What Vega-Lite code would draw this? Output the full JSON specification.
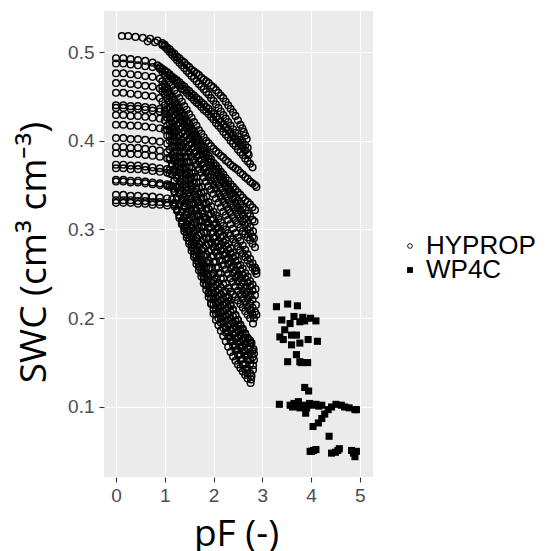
{
"$schema":"https://vega.github.io/schema/vega-lite/v6.json",
"width":269,"height":466,
"autosize":{"type":"none"},
"padding":{"left":104,"top":11,"right":177,"bottom":74},
"background":"white",
"config":{
"view":{"fill":"#EBEBEB","stroke":null},
"axis":{"domain":false,"grid":true,"gridColor":"white","gridWidth":1.1,"tickColor":"#333333","tickSize":5,"tickWidth":1.1,"labelColor":"#4D4D4D","labelFont":"Liberation Sans","labelFontSize":19,"titleFont":"Open Sans","titleFontSize":37,"titleFontWeight":"normal","titleColor":"black"},
"legend":{"labelFont":"Liberation Sans","labelFontSize":26,"labelColor":"black","symbolOpacity":1,"padding":0,"title":null}
},
"datasets":{
"hyprop":[
{"pF":0.12,"SWC":0.518},{"pF":0.25,"SWC":0.518},{"pF":0.4,"SWC":0.517},{"pF":0.55,"SWC":0.516},{"pF":0.7,"SWC":0.515},{"pF":0.85,"SWC":0.513},{"pF":0.95,"SWC":0.51},{"pF":1.0,"SWC":0.508},{"pF":1.05,"SWC":0.505},{"pF":1.1,"SWC":0.503},{"pF":1.15,"SWC":0.5},{"pF":1.2,"SWC":0.498},{"pF":1.25,"SWC":0.495},{"pF":1.3,"SWC":0.493},{"pF":1.35,"SWC":0.49},{"pF":1.4,"SWC":0.488},{"pF":1.45,"SWC":0.485},{"pF":1.5,"SWC":0.483},{"pF":1.55,"SWC":0.48},{"pF":1.6,"SWC":0.478},{"pF":1.65,"SWC":0.476},{"pF":1.7,"SWC":0.474},{"pF":1.75,"SWC":0.471},{"pF":1.8,"SWC":0.469},{"pF":1.85,"SWC":0.467},{"pF":1.9,"SWC":0.465},{"pF":1.95,"SWC":0.462},{"pF":2.0,"SWC":0.46},{"pF":2.05,"SWC":0.457},{"pF":2.1,"SWC":0.454},{"pF":2.15,"SWC":0.451},{"pF":2.2,"SWC":0.448},{"pF":2.25,"SWC":0.444},{"pF":2.3,"SWC":0.44},{"pF":2.35,"SWC":0.436},{"pF":2.4,"SWC":0.432},{"pF":2.45,"SWC":0.428},{"pF":2.5,"SWC":0.423},{"pF":2.55,"SWC":0.418},{"pF":2.59,"SWC":0.414},{"pF":2.62,"SWC":0.41},{"pF":2.65,"SWC":0.406},{"pF":2.68,"SWC":0.402},
{"pF":0.65,"SWC":0.512},{"pF":0.8,"SWC":0.511},{"pF":0.95,"SWC":0.508},{"pF":1.0,"SWC":0.506},{"pF":1.05,"SWC":0.503},{"pF":1.1,"SWC":0.5},{"pF":1.15,"SWC":0.497},{"pF":1.2,"SWC":0.494},{"pF":1.25,"SWC":0.491},{"pF":1.3,"SWC":0.488},{"pF":1.35,"SWC":0.485},{"pF":1.4,"SWC":0.482},{"pF":1.45,"SWC":0.479},{"pF":1.5,"SWC":0.476},{"pF":1.55,"SWC":0.473},{"pF":1.6,"SWC":0.47},{"pF":1.65,"SWC":0.467},{"pF":1.7,"SWC":0.464},{"pF":1.75,"SWC":0.461},{"pF":1.8,"SWC":0.458},{"pF":1.85,"SWC":0.455},{"pF":1.9,"SWC":0.452},{"pF":1.95,"SWC":0.448},{"pF":2.0,"SWC":0.445},{"pF":2.05,"SWC":0.441},{"pF":2.1,"SWC":0.437},{"pF":2.15,"SWC":0.433},{"pF":2.2,"SWC":0.429},{"pF":2.25,"SWC":0.425},{"pF":2.3,"SWC":0.421},{"pF":2.35,"SWC":0.417},{"pF":2.4,"SWC":0.413},{"pF":2.45,"SWC":0.409},{"pF":2.5,"SWC":0.405},{"pF":2.55,"SWC":0.401},{"pF":2.6,"SWC":0.398},{"pF":2.65,"SWC":0.395},{"pF":2.7,"SWC":0.392},
{"pF":0,"SWC":0.493},{"pF":0.15,"SWC":0.493},{"pF":0.3,"SWC":0.492},{"pF":0.45,"SWC":0.491},{"pF":0.6,"SWC":0.49},{"pF":0.75,"SWC":0.488},{"pF":0.85,"SWC":0.485},{"pF":0.9,"SWC":0.483},{"pF":0.95,"SWC":0.481},{"pF":1.0,"SWC":0.479},{"pF":1.05,"SWC":0.477},{"pF":1.1,"SWC":0.475},{"pF":1.15,"SWC":0.472},{"pF":1.2,"SWC":0.47},{"pF":1.25,"SWC":0.468},{"pF":1.3,"SWC":0.466},{"pF":1.35,"SWC":0.463},{"pF":1.4,"SWC":0.461},{"pF":1.45,"SWC":0.458},{"pF":1.5,"SWC":0.456},{"pF":1.55,"SWC":0.453},{"pF":1.6,"SWC":0.451},{"pF":1.65,"SWC":0.448},{"pF":1.7,"SWC":0.446},{"pF":1.75,"SWC":0.443},{"pF":1.8,"SWC":0.441},{"pF":1.85,"SWC":0.438},{"pF":1.9,"SWC":0.436},{"pF":1.95,"SWC":0.433},{"pF":2.0,"SWC":0.43},{"pF":2.05,"SWC":0.427},{"pF":2.1,"SWC":0.424},{"pF":2.15,"SWC":0.421},{"pF":2.2,"SWC":0.418},{"pF":2.25,"SWC":0.415},{"pF":2.3,"SWC":0.412},{"pF":2.35,"SWC":0.409},{"pF":2.4,"SWC":0.406},{"pF":2.45,"SWC":0.402},{"pF":2.5,"SWC":0.399},{"pF":2.55,"SWC":0.396},{"pF":2.6,"SWC":0.393},{"pF":2.65,"SWC":0.389},{"pF":2.7,"SWC":0.386},{"pF":2.72,"SWC":0.384},
{"pF":1.1,"SWC":0.473},{"pF":1.15,"SWC":0.47},{"pF":1.2,"SWC":0.468},{"pF":1.25,"SWC":0.465},{"pF":1.3,"SWC":0.462},{"pF":1.35,"SWC":0.459},{"pF":1.4,"SWC":0.457},{"pF":1.45,"SWC":0.454},{"pF":1.5,"SWC":0.451},{"pF":1.55,"SWC":0.449},{"pF":1.6,"SWC":0.446},{"pF":1.65,"SWC":0.443},{"pF":1.7,"SWC":0.441},{"pF":1.75,"SWC":0.438},{"pF":1.8,"SWC":0.435},{"pF":1.85,"SWC":0.433},{"pF":1.9,"SWC":0.43},{"pF":1.95,"SWC":0.427},{"pF":2.0,"SWC":0.424},{"pF":2.05,"SWC":0.42},{"pF":2.1,"SWC":0.417},{"pF":2.15,"SWC":0.414},{"pF":2.2,"SWC":0.41},{"pF":2.25,"SWC":0.407},{"pF":2.3,"SWC":0.404},{"pF":2.35,"SWC":0.4},{"pF":2.4,"SWC":0.397},{"pF":2.45,"SWC":0.394},{"pF":2.5,"SWC":0.39},{"pF":2.55,"SWC":0.387},{"pF":2.6,"SWC":0.384},{"pF":2.65,"SWC":0.38},{"pF":2.7,"SWC":0.377},{"pF":2.75,"SWC":0.374},{"pF":2.8,"SWC":0.37},
{"pF":0,"SWC":0.487},{"pF":0.15,"SWC":0.487},{"pF":0.3,"SWC":0.486},{"pF":0.45,"SWC":0.485},{"pF":0.6,"SWC":0.484},{"pF":0.75,"SWC":0.483},{"pF":0.9,"SWC":0.481},{"pF":0.95,"SWC":0.478},{"pF":1.0,"SWC":0.474},{"pF":1.05,"SWC":0.47},{"pF":1.1,"SWC":0.466},{"pF":1.15,"SWC":0.462},{"pF":1.2,"SWC":0.457},{"pF":1.25,"SWC":0.453},{"pF":1.3,"SWC":0.448},{"pF":1.35,"SWC":0.444},{"pF":1.4,"SWC":0.439},{"pF":1.45,"SWC":0.435},{"pF":1.5,"SWC":0.43},{"pF":1.55,"SWC":0.426},{"pF":1.6,"SWC":0.421},{"pF":1.65,"SWC":0.417},{"pF":1.7,"SWC":0.412},{"pF":1.75,"SWC":0.408},{"pF":1.8,"SWC":0.404},{"pF":1.85,"SWC":0.4},{"pF":1.9,"SWC":0.397},{"pF":1.95,"SWC":0.394},{"pF":2.0,"SWC":0.391},{"pF":2.05,"SWC":0.388},{"pF":2.1,"SWC":0.386},{"pF":2.15,"SWC":0.383},{"pF":2.2,"SWC":0.381},{"pF":2.25,"SWC":0.378},{"pF":2.3,"SWC":0.376},{"pF":2.35,"SWC":0.373},{"pF":2.4,"SWC":0.371},{"pF":2.45,"SWC":0.369},{"pF":2.5,"SWC":0.367},{"pF":2.55,"SWC":0.364},{"pF":2.6,"SWC":0.362},{"pF":2.65,"SWC":0.359},{"pF":2.7,"SWC":0.357},{"pF":2.75,"SWC":0.354},{"pF":2.8,"SWC":0.352},{"pF":2.85,"SWC":0.35},{"pF":2.88,"SWC":0.348},
{"pF":0,"SWC":0.476},{"pF":0.15,"SWC":0.476},{"pF":0.3,"SWC":0.475},{"pF":0.45,"SWC":0.474},{"pF":0.6,"SWC":0.473},{"pF":0.75,"SWC":0.472},{"pF":0.9,"SWC":0.47},{"pF":0.95,"SWC":0.467},{"pF":1.0,"SWC":0.463},{"pF":1.05,"SWC":0.459},{"pF":1.1,"SWC":0.455},{"pF":1.15,"SWC":0.45},{"pF":1.2,"SWC":0.446},{"pF":1.25,"SWC":0.441},{"pF":1.3,"SWC":0.437},{"pF":1.35,"SWC":0.432},{"pF":1.4,"SWC":0.428},{"pF":1.45,"SWC":0.423},{"pF":1.5,"SWC":0.419},{"pF":1.55,"SWC":0.414},{"pF":1.6,"SWC":0.41},{"pF":1.65,"SWC":0.405},{"pF":1.7,"SWC":0.401},{"pF":1.75,"SWC":0.396},{"pF":1.8,"SWC":0.392},{"pF":1.85,"SWC":0.387},{"pF":1.9,"SWC":0.383},{"pF":1.95,"SWC":0.379},{"pF":2.0,"SWC":0.375},{"pF":2.05,"SWC":0.372},{"pF":2.1,"SWC":0.369},{"pF":2.15,"SWC":0.365},{"pF":2.2,"SWC":0.362},{"pF":2.25,"SWC":0.358},{"pF":2.3,"SWC":0.355},{"pF":2.35,"SWC":0.351},{"pF":2.4,"SWC":0.348},{"pF":2.45,"SWC":0.345},{"pF":2.5,"SWC":0.342},{"pF":2.55,"SWC":0.339},{"pF":2.6,"SWC":0.336},{"pF":2.65,"SWC":0.333},{"pF":2.7,"SWC":0.331},{"pF":2.75,"SWC":0.328},{"pF":2.8,"SWC":0.325},{"pF":2.85,"SWC":0.322},
{"pF":0.95,"SWC":0.461},{"pF":1.0,"SWC":0.458},{"pF":1.05,"SWC":0.454},{"pF":1.1,"SWC":0.45},{"pF":1.15,"SWC":0.446},{"pF":1.2,"SWC":0.441},{"pF":1.25,"SWC":0.437},{"pF":1.3,"SWC":0.433},{"pF":1.35,"SWC":0.428},{"pF":1.4,"SWC":0.424},{"pF":1.45,"SWC":0.42},{"pF":1.5,"SWC":0.415},{"pF":1.55,"SWC":0.411},{"pF":1.6,"SWC":0.407},{"pF":1.65,"SWC":0.402},{"pF":1.7,"SWC":0.398},{"pF":1.75,"SWC":0.393},{"pF":1.8,"SWC":0.389},{"pF":1.85,"SWC":0.385},{"pF":1.9,"SWC":0.38},{"pF":1.95,"SWC":0.376},{"pF":2.0,"SWC":0.372},{"pF":2.05,"SWC":0.368},{"pF":2.1,"SWC":0.364},{"pF":2.15,"SWC":0.36},{"pF":2.2,"SWC":0.356},{"pF":2.25,"SWC":0.352},{"pF":2.3,"SWC":0.348},{"pF":2.35,"SWC":0.344},{"pF":2.4,"SWC":0.341},{"pF":2.45,"SWC":0.337},{"pF":2.5,"SWC":0.333},{"pF":2.55,"SWC":0.329},{"pF":2.6,"SWC":0.325},{"pF":2.65,"SWC":0.322},{"pF":2.7,"SWC":0.318},{"pF":2.75,"SWC":0.315},{"pF":2.8,"SWC":0.311},{"pF":2.84,"SWC":0.309},
{"pF":0,"SWC":0.465},{"pF":0.15,"SWC":0.465},{"pF":0.3,"SWC":0.464},{"pF":0.45,"SWC":0.463},{"pF":0.6,"SWC":0.462},{"pF":0.75,"SWC":0.461},{"pF":0.9,"SWC":0.459},{"pF":0.95,"SWC":0.456},{"pF":1.0,"SWC":0.452},{"pF":1.05,"SWC":0.448},{"pF":1.1,"SWC":0.444},{"pF":1.15,"SWC":0.44},{"pF":1.2,"SWC":0.436},{"pF":1.25,"SWC":0.432},{"pF":1.3,"SWC":0.427},{"pF":1.35,"SWC":0.423},{"pF":1.4,"SWC":0.419},{"pF":1.45,"SWC":0.415},{"pF":1.5,"SWC":0.41},{"pF":1.55,"SWC":0.406},{"pF":1.6,"SWC":0.402},{"pF":1.65,"SWC":0.398},{"pF":1.7,"SWC":0.393},{"pF":1.75,"SWC":0.389},{"pF":1.8,"SWC":0.385},{"pF":1.85,"SWC":0.381},{"pF":1.9,"SWC":0.376},{"pF":1.95,"SWC":0.372},{"pF":2.0,"SWC":0.368},{"pF":2.05,"SWC":0.364},{"pF":2.1,"SWC":0.36},{"pF":2.15,"SWC":0.356},{"pF":2.2,"SWC":0.352},{"pF":2.25,"SWC":0.348},{"pF":2.3,"SWC":0.343},{"pF":2.35,"SWC":0.339},{"pF":2.4,"SWC":0.334},{"pF":2.45,"SWC":0.33},{"pF":2.5,"SWC":0.325},{"pF":2.55,"SWC":0.321},{"pF":2.6,"SWC":0.316},{"pF":2.65,"SWC":0.312},{"pF":2.7,"SWC":0.307},{"pF":2.75,"SWC":0.303},{"pF":2.81,"SWC":0.298},
{"pF":1.1,"SWC":0.438},{"pF":1.15,"SWC":0.433},{"pF":1.2,"SWC":0.429},{"pF":1.25,"SWC":0.424},{"pF":1.3,"SWC":0.42},{"pF":1.35,"SWC":0.415},{"pF":1.4,"SWC":0.411},{"pF":1.45,"SWC":0.406},{"pF":1.5,"SWC":0.402},{"pF":1.55,"SWC":0.397},{"pF":1.6,"SWC":0.393},{"pF":1.65,"SWC":0.388},{"pF":1.7,"SWC":0.384},{"pF":1.75,"SWC":0.379},{"pF":1.8,"SWC":0.375},{"pF":1.85,"SWC":0.37},{"pF":1.9,"SWC":0.366},{"pF":1.95,"SWC":0.362},{"pF":2.0,"SWC":0.358},{"pF":2.05,"SWC":0.354},{"pF":2.1,"SWC":0.35},{"pF":2.15,"SWC":0.346},{"pF":2.2,"SWC":0.341},{"pF":2.25,"SWC":0.337},{"pF":2.3,"SWC":0.333},{"pF":2.35,"SWC":0.329},{"pF":2.4,"SWC":0.325},{"pF":2.45,"SWC":0.321},{"pF":2.5,"SWC":0.317},{"pF":2.55,"SWC":0.313},{"pF":2.6,"SWC":0.309},{"pF":2.65,"SWC":0.305},{"pF":2.7,"SWC":0.3},{"pF":2.75,"SWC":0.296},{"pF":2.8,"SWC":0.292},{"pF":2.83,"SWC":0.29},
{"pF":0,"SWC":0.454},{"pF":0.15,"SWC":0.454},{"pF":0.3,"SWC":0.453},{"pF":0.45,"SWC":0.452},{"pF":0.6,"SWC":0.451},{"pF":0.75,"SWC":0.45},{"pF":0.9,"SWC":0.448},{"pF":0.95,"SWC":0.444},{"pF":1.0,"SWC":0.44},{"pF":1.05,"SWC":0.436},{"pF":1.1,"SWC":0.431},{"pF":1.15,"SWC":0.427},{"pF":1.2,"SWC":0.422},{"pF":1.25,"SWC":0.418},{"pF":1.3,"SWC":0.413},{"pF":1.35,"SWC":0.409},{"pF":1.4,"SWC":0.404},{"pF":1.45,"SWC":0.4},{"pF":1.5,"SWC":0.395},{"pF":1.55,"SWC":0.391},{"pF":1.6,"SWC":0.386},{"pF":1.65,"SWC":0.382},{"pF":1.7,"SWC":0.377},{"pF":1.75,"SWC":0.373},{"pF":1.8,"SWC":0.368},{"pF":1.85,"SWC":0.364},{"pF":1.9,"SWC":0.359},{"pF":1.95,"SWC":0.355},{"pF":2.0,"SWC":0.35},{"pF":2.05,"SWC":0.346},{"pF":2.1,"SWC":0.341},{"pF":2.15,"SWC":0.337},{"pF":2.2,"SWC":0.332},{"pF":2.25,"SWC":0.328},{"pF":2.3,"SWC":0.323},{"pF":2.35,"SWC":0.319},{"pF":2.4,"SWC":0.314},{"pF":2.45,"SWC":0.31},{"pF":2.5,"SWC":0.306},{"pF":2.55,"SWC":0.302},{"pF":2.6,"SWC":0.298},{"pF":2.65,"SWC":0.295},{"pF":2.7,"SWC":0.291},{"pF":2.75,"SWC":0.288},{"pF":2.8,"SWC":0.284},{"pF":2.85,"SWC":0.28},
{"pF":0,"SWC":0.44},{"pF":0.15,"SWC":0.44},{"pF":0.3,"SWC":0.439},{"pF":0.45,"SWC":0.439},{"pF":0.6,"SWC":0.438},{"pF":0.75,"SWC":0.437},{"pF":0.9,"SWC":0.436},{"pF":1.0,"SWC":0.434},{"pF":1.05,"SWC":0.43},{"pF":1.1,"SWC":0.425},{"pF":1.15,"SWC":0.42},{"pF":1.2,"SWC":0.415},{"pF":1.25,"SWC":0.411},{"pF":1.3,"SWC":0.406},{"pF":1.35,"SWC":0.401},{"pF":1.4,"SWC":0.397},{"pF":1.45,"SWC":0.392},{"pF":1.5,"SWC":0.387},{"pF":1.55,"SWC":0.382},{"pF":1.6,"SWC":0.378},{"pF":1.65,"SWC":0.373},{"pF":1.7,"SWC":0.368},{"pF":1.75,"SWC":0.364},{"pF":1.8,"SWC":0.359},{"pF":1.85,"SWC":0.354},{"pF":1.9,"SWC":0.349},{"pF":1.95,"SWC":0.345},{"pF":2.0,"SWC":0.34},{"pF":2.05,"SWC":0.335},{"pF":2.1,"SWC":0.33},{"pF":2.15,"SWC":0.325},{"pF":2.2,"SWC":0.32},{"pF":2.25,"SWC":0.316},{"pF":2.3,"SWC":0.311},{"pF":2.35,"SWC":0.306},{"pF":2.4,"SWC":0.301},{"pF":2.45,"SWC":0.296},{"pF":2.5,"SWC":0.291},{"pF":2.55,"SWC":0.287},{"pF":2.6,"SWC":0.282},{"pF":2.65,"SWC":0.277},{"pF":2.7,"SWC":0.272},{"pF":2.75,"SWC":0.267},{"pF":2.8,"SWC":0.262},{"pF":2.85,"SWC":0.257},{"pF":2.88,"SWC":0.254},
{"pF":0,"SWC":0.437},{"pF":0.15,"SWC":0.437},{"pF":0.3,"SWC":0.436},{"pF":0.45,"SWC":0.436},{"pF":0.6,"SWC":0.435},{"pF":0.75,"SWC":0.434},{"pF":0.9,"SWC":0.433},{"pF":1.0,"SWC":0.431},{"pF":1.05,"SWC":0.426},{"pF":1.1,"SWC":0.42},{"pF":1.15,"SWC":0.415},{"pF":1.2,"SWC":0.409},{"pF":1.25,"SWC":0.404},{"pF":1.3,"SWC":0.398},{"pF":1.35,"SWC":0.393},{"pF":1.4,"SWC":0.387},{"pF":1.45,"SWC":0.382},{"pF":1.5,"SWC":0.376},{"pF":1.55,"SWC":0.37},{"pF":1.6,"SWC":0.364},{"pF":1.65,"SWC":0.359},{"pF":1.7,"SWC":0.353},{"pF":1.75,"SWC":0.348},{"pF":1.8,"SWC":0.342},{"pF":1.85,"SWC":0.337},{"pF":1.9,"SWC":0.331},{"pF":1.95,"SWC":0.326},{"pF":2.0,"SWC":0.32},{"pF":2.05,"SWC":0.316},{"pF":2.1,"SWC":0.312},{"pF":2.15,"SWC":0.308},{"pF":2.2,"SWC":0.304},{"pF":2.25,"SWC":0.3},{"pF":2.3,"SWC":0.296},{"pF":2.35,"SWC":0.293},{"pF":2.4,"SWC":0.289},{"pF":2.45,"SWC":0.285},{"pF":2.5,"SWC":0.281},{"pF":2.55,"SWC":0.277},{"pF":2.6,"SWC":0.273},{"pF":2.65,"SWC":0.269},{"pF":2.7,"SWC":0.265},{"pF":2.75,"SWC":0.261},{"pF":2.8,"SWC":0.257},{"pF":2.85,"SWC":0.253},{"pF":2.88,"SWC":0.25},
{"pF":1.15,"SWC":0.411},{"pF":1.2,"SWC":0.405},{"pF":1.25,"SWC":0.399},{"pF":1.3,"SWC":0.394},{"pF":1.35,"SWC":0.388},{"pF":1.4,"SWC":0.382},{"pF":1.45,"SWC":0.376},{"pF":1.5,"SWC":0.37},{"pF":1.55,"SWC":0.364},{"pF":1.6,"SWC":0.359},{"pF":1.65,"SWC":0.353},{"pF":1.7,"SWC":0.347},{"pF":1.75,"SWC":0.341},{"pF":1.8,"SWC":0.335},{"pF":1.85,"SWC":0.329},{"pF":1.9,"SWC":0.323},{"pF":1.95,"SWC":0.318},{"pF":2.0,"SWC":0.312},{"pF":2.05,"SWC":0.307},{"pF":2.1,"SWC":0.302},{"pF":2.15,"SWC":0.298},{"pF":2.2,"SWC":0.293},{"pF":2.25,"SWC":0.288},{"pF":2.3,"SWC":0.284},{"pF":2.35,"SWC":0.279},{"pF":2.4,"SWC":0.274},{"pF":2.45,"SWC":0.27},{"pF":2.5,"SWC":0.265},{"pF":2.55,"SWC":0.26},{"pF":2.6,"SWC":0.256},{"pF":2.65,"SWC":0.251},{"pF":2.7,"SWC":0.247},{"pF":2.75,"SWC":0.242},{"pF":2.8,"SWC":0.238},{"pF":2.86,"SWC":0.233},
{"pF":0,"SWC":0.429},{"pF":0.15,"SWC":0.429},{"pF":0.3,"SWC":0.428},{"pF":0.45,"SWC":0.428},{"pF":0.6,"SWC":0.427},{"pF":0.75,"SWC":0.426},{"pF":0.9,"SWC":0.425},{"pF":1.0,"SWC":0.423},{"pF":1.05,"SWC":0.417},{"pF":1.1,"SWC":0.411},{"pF":1.15,"SWC":0.405},{"pF":1.2,"SWC":0.399},{"pF":1.25,"SWC":0.394},{"pF":1.3,"SWC":0.388},{"pF":1.35,"SWC":0.382},{"pF":1.4,"SWC":0.376},{"pF":1.45,"SWC":0.37},{"pF":1.5,"SWC":0.364},{"pF":1.55,"SWC":0.358},{"pF":1.6,"SWC":0.352},{"pF":1.65,"SWC":0.346},{"pF":1.7,"SWC":0.34},{"pF":1.75,"SWC":0.335},{"pF":1.8,"SWC":0.329},{"pF":1.85,"SWC":0.323},{"pF":1.9,"SWC":0.317},{"pF":1.95,"SWC":0.311},{"pF":2.0,"SWC":0.305},{"pF":2.05,"SWC":0.301},{"pF":2.1,"SWC":0.296},{"pF":2.15,"SWC":0.291},{"pF":2.2,"SWC":0.286},{"pF":2.25,"SWC":0.282},{"pF":2.3,"SWC":0.277},{"pF":2.35,"SWC":0.273},{"pF":2.4,"SWC":0.268},{"pF":2.45,"SWC":0.264},{"pF":2.5,"SWC":0.259},{"pF":2.55,"SWC":0.254},{"pF":2.6,"SWC":0.249},{"pF":2.65,"SWC":0.245},{"pF":2.7,"SWC":0.24},{"pF":2.75,"SWC":0.236},{"pF":2.8,"SWC":0.231},{"pF":2.85,"SWC":0.226},
{"pF":1.05,"SWC":0.412},{"pF":1.1,"SWC":0.406},{"pF":1.15,"SWC":0.399},{"pF":1.2,"SWC":0.393},{"pF":1.25,"SWC":0.387},{"pF":1.3,"SWC":0.381},{"pF":1.35,"SWC":0.374},{"pF":1.4,"SWC":0.368},{"pF":1.45,"SWC":0.362},{"pF":1.5,"SWC":0.356},{"pF":1.55,"SWC":0.349},{"pF":1.6,"SWC":0.343},{"pF":1.65,"SWC":0.337},{"pF":1.7,"SWC":0.331},{"pF":1.75,"SWC":0.325},{"pF":1.8,"SWC":0.318},{"pF":1.85,"SWC":0.312},{"pF":1.9,"SWC":0.307},{"pF":1.95,"SWC":0.302},{"pF":2.0,"SWC":0.297},{"pF":2.05,"SWC":0.292},{"pF":2.1,"SWC":0.287},{"pF":2.15,"SWC":0.283},{"pF":2.2,"SWC":0.278},{"pF":2.25,"SWC":0.273},{"pF":2.3,"SWC":0.268},{"pF":2.35,"SWC":0.264},{"pF":2.4,"SWC":0.259},{"pF":2.45,"SWC":0.254},{"pF":2.5,"SWC":0.249},{"pF":2.55,"SWC":0.245},{"pF":2.6,"SWC":0.24},{"pF":2.65,"SWC":0.235},{"pF":2.7,"SWC":0.23},{"pF":2.75,"SWC":0.226},{"pF":2.8,"SWC":0.221},{"pF":2.87,"SWC":0.215},
{"pF":0,"SWC":0.418},{"pF":0.15,"SWC":0.418},{"pF":0.3,"SWC":0.417},{"pF":0.45,"SWC":0.417},{"pF":0.6,"SWC":0.416},{"pF":0.75,"SWC":0.415},{"pF":0.9,"SWC":0.414},{"pF":1.0,"SWC":0.412},{"pF":1.05,"SWC":0.406},{"pF":1.1,"SWC":0.4},{"pF":1.15,"SWC":0.394},{"pF":1.2,"SWC":0.388},{"pF":1.25,"SWC":0.382},{"pF":1.3,"SWC":0.376},{"pF":1.35,"SWC":0.369},{"pF":1.4,"SWC":0.363},{"pF":1.45,"SWC":0.357},{"pF":1.5,"SWC":0.351},{"pF":1.55,"SWC":0.345},{"pF":1.6,"SWC":0.339},{"pF":1.65,"SWC":0.333},{"pF":1.7,"SWC":0.327},{"pF":1.75,"SWC":0.32},{"pF":1.8,"SWC":0.314},{"pF":1.85,"SWC":0.308},{"pF":1.9,"SWC":0.302},{"pF":1.95,"SWC":0.296},{"pF":2.0,"SWC":0.29},{"pF":2.05,"SWC":0.285},{"pF":2.1,"SWC":0.28},{"pF":2.15,"SWC":0.276},{"pF":2.2,"SWC":0.271},{"pF":2.25,"SWC":0.266},{"pF":2.3,"SWC":0.261},{"pF":2.35,"SWC":0.256},{"pF":2.4,"SWC":0.251},{"pF":2.45,"SWC":0.246},{"pF":2.5,"SWC":0.241},{"pF":2.55,"SWC":0.236},{"pF":2.6,"SWC":0.231},{"pF":2.65,"SWC":0.227},{"pF":2.7,"SWC":0.222},{"pF":2.75,"SWC":0.217},{"pF":2.8,"SWC":0.212},{"pF":2.85,"SWC":0.207},{"pF":2.88,"SWC":0.204},
{"pF":1.2,"SWC":0.381},{"pF":1.25,"SWC":0.374},{"pF":1.3,"SWC":0.368},{"pF":1.35,"SWC":0.361},{"pF":1.4,"SWC":0.355},{"pF":1.45,"SWC":0.348},{"pF":1.5,"SWC":0.342},{"pF":1.55,"SWC":0.335},{"pF":1.6,"SWC":0.329},{"pF":1.65,"SWC":0.322},{"pF":1.7,"SWC":0.316},{"pF":1.75,"SWC":0.309},{"pF":1.8,"SWC":0.303},{"pF":1.85,"SWC":0.296},{"pF":1.9,"SWC":0.29},{"pF":1.95,"SWC":0.285},{"pF":2.0,"SWC":0.28},{"pF":2.05,"SWC":0.275},{"pF":2.1,"SWC":0.27},{"pF":2.15,"SWC":0.265},{"pF":2.2,"SWC":0.26},{"pF":2.25,"SWC":0.255},{"pF":2.3,"SWC":0.25},{"pF":2.35,"SWC":0.245},{"pF":2.4,"SWC":0.241},{"pF":2.45,"SWC":0.236},{"pF":2.5,"SWC":0.231},{"pF":2.55,"SWC":0.227},{"pF":2.6,"SWC":0.222},{"pF":2.65,"SWC":0.218},{"pF":2.7,"SWC":0.213},{"pF":2.75,"SWC":0.209},{"pF":2.8,"SWC":0.204},{"pF":2.83,"SWC":0.2},
{"pF":0,"SWC":0.403},{"pF":0.15,"SWC":0.403},{"pF":0.3,"SWC":0.402},{"pF":0.45,"SWC":0.402},{"pF":0.6,"SWC":0.401},{"pF":0.75,"SWC":0.4},{"pF":0.9,"SWC":0.399},{"pF":1.05,"SWC":0.397},{"pF":1.1,"SWC":0.39},{"pF":1.15,"SWC":0.384},{"pF":1.2,"SWC":0.377},{"pF":1.25,"SWC":0.37},{"pF":1.3,"SWC":0.364},{"pF":1.35,"SWC":0.357},{"pF":1.4,"SWC":0.35},{"pF":1.45,"SWC":0.344},{"pF":1.5,"SWC":0.337},{"pF":1.55,"SWC":0.33},{"pF":1.6,"SWC":0.323},{"pF":1.65,"SWC":0.317},{"pF":1.7,"SWC":0.31},{"pF":1.75,"SWC":0.303},{"pF":1.8,"SWC":0.297},{"pF":1.85,"SWC":0.29},{"pF":1.9,"SWC":0.283},{"pF":1.95,"SWC":0.277},{"pF":2.0,"SWC":0.27},{"pF":2.05,"SWC":0.264},{"pF":2.1,"SWC":0.257},{"pF":2.15,"SWC":0.251},{"pF":2.2,"SWC":0.245},{"pF":2.25,"SWC":0.239},{"pF":2.3,"SWC":0.234},{"pF":2.35,"SWC":0.23},{"pF":2.4,"SWC":0.227},{"pF":2.45,"SWC":0.224},{"pF":2.5,"SWC":0.22},{"pF":2.55,"SWC":0.216},{"pF":2.6,"SWC":0.212},{"pF":2.65,"SWC":0.208},{"pF":2.7,"SWC":0.204},{"pF":2.75,"SWC":0.2},{"pF":2.81,"SWC":0.194},
{"pF":0,"SWC":0.393},{"pF":0.15,"SWC":0.393},{"pF":0.3,"SWC":0.392},{"pF":0.45,"SWC":0.392},{"pF":0.6,"SWC":0.391},{"pF":0.75,"SWC":0.39},{"pF":0.9,"SWC":0.389},{"pF":1.05,"SWC":0.387},{"pF":1.1,"SWC":0.381},{"pF":1.15,"SWC":0.374},{"pF":1.2,"SWC":0.368},{"pF":1.25,"SWC":0.361},{"pF":1.3,"SWC":0.354},{"pF":1.35,"SWC":0.348},{"pF":1.4,"SWC":0.341},{"pF":1.45,"SWC":0.334},{"pF":1.5,"SWC":0.328},{"pF":1.55,"SWC":0.321},{"pF":1.6,"SWC":0.315},{"pF":1.65,"SWC":0.308},{"pF":1.7,"SWC":0.302},{"pF":1.75,"SWC":0.295},{"pF":1.8,"SWC":0.289},{"pF":1.85,"SWC":0.282},{"pF":1.9,"SWC":0.276},{"pF":1.95,"SWC":0.269},{"pF":2.0,"SWC":0.263},{"pF":2.05,"SWC":0.257},{"pF":2.1,"SWC":0.251},{"pF":2.15,"SWC":0.245},{"pF":2.2,"SWC":0.238},{"pF":2.25,"SWC":0.23},{"pF":2.3,"SWC":0.223},{"pF":2.35,"SWC":0.216},{"pF":2.4,"SWC":0.21},{"pF":2.45,"SWC":0.204},{"pF":2.5,"SWC":0.198},{"pF":2.55,"SWC":0.192},{"pF":2.6,"SWC":0.187},{"pF":2.65,"SWC":0.182},{"pF":2.7,"SWC":0.178},{"pF":2.75,"SWC":0.175},{"pF":2.78,"SWC":0.172},
{"pF":0,"SWC":0.386},{"pF":0.15,"SWC":0.386},{"pF":0.3,"SWC":0.385},{"pF":0.45,"SWC":0.385},{"pF":0.6,"SWC":0.384},{"pF":0.75,"SWC":0.383},{"pF":0.9,"SWC":0.382},{"pF":1.05,"SWC":0.38},{"pF":1.1,"SWC":0.379},{"pF":1.15,"SWC":0.372},{"pF":1.2,"SWC":0.365},{"pF":1.25,"SWC":0.358},{"pF":1.3,"SWC":0.35},{"pF":1.35,"SWC":0.343},{"pF":1.4,"SWC":0.336},{"pF":1.45,"SWC":0.329},{"pF":1.5,"SWC":0.322},{"pF":1.55,"SWC":0.315},{"pF":1.6,"SWC":0.308},{"pF":1.65,"SWC":0.3},{"pF":1.7,"SWC":0.293},{"pF":1.75,"SWC":0.286},{"pF":1.8,"SWC":0.279},{"pF":1.85,"SWC":0.272},{"pF":1.9,"SWC":0.265},{"pF":1.95,"SWC":0.257},{"pF":2.0,"SWC":0.25},{"pF":2.05,"SWC":0.245},{"pF":2.1,"SWC":0.24},{"pF":2.15,"SWC":0.235},{"pF":2.2,"SWC":0.229},{"pF":2.25,"SWC":0.224},{"pF":2.3,"SWC":0.219},{"pF":2.35,"SWC":0.214},{"pF":2.4,"SWC":0.209},{"pF":2.45,"SWC":0.203},{"pF":2.5,"SWC":0.198},{"pF":2.55,"SWC":0.193},{"pF":2.6,"SWC":0.188},{"pF":2.65,"SWC":0.183},{"pF":2.7,"SWC":0.177},{"pF":2.75,"SWC":0.172},{"pF":2.82,"SWC":0.165},
{"pF":0,"SWC":0.373},{"pF":0.15,"SWC":0.373},{"pF":0.3,"SWC":0.372},{"pF":0.45,"SWC":0.372},{"pF":0.6,"SWC":0.371},{"pF":0.75,"SWC":0.37},{"pF":0.9,"SWC":0.369},{"pF":1.05,"SWC":0.368},{"pF":1.1,"SWC":0.367},{"pF":1.15,"SWC":0.362},{"pF":1.2,"SWC":0.355},{"pF":1.25,"SWC":0.348},{"pF":1.3,"SWC":0.341},{"pF":1.35,"SWC":0.334},{"pF":1.4,"SWC":0.327},{"pF":1.45,"SWC":0.32},{"pF":1.5,"SWC":0.313},{"pF":1.55,"SWC":0.306},{"pF":1.6,"SWC":0.299},{"pF":1.65,"SWC":0.291},{"pF":1.7,"SWC":0.284},{"pF":1.75,"SWC":0.277},{"pF":1.8,"SWC":0.27},{"pF":1.85,"SWC":0.263},{"pF":1.9,"SWC":0.256},{"pF":1.95,"SWC":0.249},{"pF":2.0,"SWC":0.242},{"pF":2.05,"SWC":0.237},{"pF":2.1,"SWC":0.232},{"pF":2.15,"SWC":0.227},{"pF":2.2,"SWC":0.222},{"pF":2.25,"SWC":0.217},{"pF":2.3,"SWC":0.212},{"pF":2.35,"SWC":0.207},{"pF":2.4,"SWC":0.202},{"pF":2.45,"SWC":0.197},{"pF":2.5,"SWC":0.193},{"pF":2.55,"SWC":0.188},{"pF":2.6,"SWC":0.183},{"pF":2.65,"SWC":0.178},{"pF":2.7,"SWC":0.173},{"pF":2.75,"SWC":0.168},{"pF":2.8,"SWC":0.163},{"pF":2.83,"SWC":0.16},
{"pF":0,"SWC":0.369},{"pF":0.15,"SWC":0.369},{"pF":0.3,"SWC":0.368},{"pF":0.45,"SWC":0.368},{"pF":0.6,"SWC":0.367},{"pF":0.75,"SWC":0.366},{"pF":0.9,"SWC":0.365},{"pF":1.05,"SWC":0.364},{"pF":1.1,"SWC":0.363},{"pF":1.15,"SWC":0.362},{"pF":1.2,"SWC":0.355},{"pF":1.25,"SWC":0.347},{"pF":1.3,"SWC":0.34},{"pF":1.35,"SWC":0.332},{"pF":1.4,"SWC":0.325},{"pF":1.45,"SWC":0.317},{"pF":1.5,"SWC":0.31},{"pF":1.55,"SWC":0.302},{"pF":1.6,"SWC":0.295},{"pF":1.65,"SWC":0.287},{"pF":1.7,"SWC":0.28},{"pF":1.75,"SWC":0.272},{"pF":1.8,"SWC":0.265},{"pF":1.85,"SWC":0.257},{"pF":1.9,"SWC":0.25},{"pF":1.95,"SWC":0.242},{"pF":2.0,"SWC":0.235},{"pF":2.05,"SWC":0.23},{"pF":2.1,"SWC":0.225},{"pF":2.15,"SWC":0.22},{"pF":2.2,"SWC":0.215},{"pF":2.25,"SWC":0.21},{"pF":2.3,"SWC":0.205},{"pF":2.35,"SWC":0.2},{"pF":2.4,"SWC":0.195},{"pF":2.45,"SWC":0.19},{"pF":2.5,"SWC":0.186},{"pF":2.55,"SWC":0.181},{"pF":2.6,"SWC":0.176},{"pF":2.65,"SWC":0.171},{"pF":2.7,"SWC":0.166},{"pF":2.75,"SWC":0.161},{"pF":2.8,"SWC":0.156},{"pF":2.83,"SWC":0.153},
{"pF":0,"SWC":0.356},{"pF":0.15,"SWC":0.356},{"pF":0.3,"SWC":0.355},{"pF":0.45,"SWC":0.355},{"pF":0.6,"SWC":0.354},{"pF":0.75,"SWC":0.353},{"pF":0.9,"SWC":0.352},{"pF":1.05,"SWC":0.351},{"pF":1.1,"SWC":0.35},{"pF":1.15,"SWC":0.349},{"pF":1.2,"SWC":0.342},{"pF":1.25,"SWC":0.335},{"pF":1.3,"SWC":0.328},{"pF":1.35,"SWC":0.32},{"pF":1.4,"SWC":0.313},{"pF":1.45,"SWC":0.306},{"pF":1.5,"SWC":0.299},{"pF":1.55,"SWC":0.292},{"pF":1.6,"SWC":0.285},{"pF":1.65,"SWC":0.278},{"pF":1.7,"SWC":0.271},{"pF":1.75,"SWC":0.264},{"pF":1.8,"SWC":0.257},{"pF":1.85,"SWC":0.249},{"pF":1.9,"SWC":0.242},{"pF":1.95,"SWC":0.235},{"pF":2.0,"SWC":0.228},{"pF":2.05,"SWC":0.223},{"pF":2.1,"SWC":0.218},{"pF":2.15,"SWC":0.213},{"pF":2.2,"SWC":0.208},{"pF":2.25,"SWC":0.203},{"pF":2.3,"SWC":0.198},{"pF":2.35,"SWC":0.193},{"pF":2.4,"SWC":0.188},{"pF":2.45,"SWC":0.183},{"pF":2.5,"SWC":0.178},{"pF":2.55,"SWC":0.173},{"pF":2.6,"SWC":0.168},{"pF":2.65,"SWC":0.163},{"pF":2.7,"SWC":0.158},{"pF":2.75,"SWC":0.153},{"pF":2.81,"SWC":0.147},
{"pF":0,"SWC":0.354},{"pF":0.15,"SWC":0.354},{"pF":0.3,"SWC":0.353},{"pF":0.45,"SWC":0.353},{"pF":0.6,"SWC":0.352},{"pF":0.75,"SWC":0.351},{"pF":0.9,"SWC":0.35},{"pF":1.05,"SWC":0.349},{"pF":1.1,"SWC":0.348},{"pF":1.18,"SWC":0.346},{"pF":1.2,"SWC":0.343},{"pF":1.25,"SWC":0.335},{"pF":1.3,"SWC":0.328},{"pF":1.35,"SWC":0.32},{"pF":1.4,"SWC":0.313},{"pF":1.45,"SWC":0.305},{"pF":1.5,"SWC":0.298},{"pF":1.55,"SWC":0.29},{"pF":1.6,"SWC":0.282},{"pF":1.65,"SWC":0.275},{"pF":1.7,"SWC":0.267},{"pF":1.75,"SWC":0.26},{"pF":1.8,"SWC":0.252},{"pF":1.85,"SWC":0.244},{"pF":1.9,"SWC":0.237},{"pF":1.95,"SWC":0.229},{"pF":2.0,"SWC":0.222},{"pF":2.05,"SWC":0.217},{"pF":2.1,"SWC":0.212},{"pF":2.15,"SWC":0.207},{"pF":2.2,"SWC":0.202},{"pF":2.25,"SWC":0.197},{"pF":2.3,"SWC":0.192},{"pF":2.35,"SWC":0.187},{"pF":2.4,"SWC":0.182},{"pF":2.45,"SWC":0.177},{"pF":2.5,"SWC":0.173},{"pF":2.55,"SWC":0.168},{"pF":2.6,"SWC":0.163},{"pF":2.65,"SWC":0.158},{"pF":2.7,"SWC":0.153},{"pF":2.75,"SWC":0.148},{"pF":2.81,"SWC":0.142},
{"pF":0,"SWC":0.339},{"pF":0.15,"SWC":0.339},{"pF":0.3,"SWC":0.338},{"pF":0.45,"SWC":0.338},{"pF":0.6,"SWC":0.337},{"pF":0.75,"SWC":0.337},{"pF":0.9,"SWC":0.336},{"pF":1.05,"SWC":0.335},{"pF":1.15,"SWC":0.334},{"pF":1.2,"SWC":0.33},{"pF":1.25,"SWC":0.323},{"pF":1.3,"SWC":0.316},{"pF":1.35,"SWC":0.308},{"pF":1.4,"SWC":0.301},{"pF":1.45,"SWC":0.294},{"pF":1.5,"SWC":0.287},{"pF":1.55,"SWC":0.28},{"pF":1.6,"SWC":0.272},{"pF":1.65,"SWC":0.265},{"pF":1.7,"SWC":0.258},{"pF":1.75,"SWC":0.251},{"pF":1.8,"SWC":0.244},{"pF":1.85,"SWC":0.237},{"pF":1.9,"SWC":0.229},{"pF":1.95,"SWC":0.222},{"pF":2.0,"SWC":0.215},{"pF":2.05,"SWC":0.21},{"pF":2.1,"SWC":0.205},{"pF":2.15,"SWC":0.2},{"pF":2.2,"SWC":0.195},{"pF":2.25,"SWC":0.189},{"pF":2.3,"SWC":0.184},{"pF":2.35,"SWC":0.179},{"pF":2.4,"SWC":0.174},{"pF":2.45,"SWC":0.169},{"pF":2.5,"SWC":0.164},{"pF":2.55,"SWC":0.159},{"pF":2.6,"SWC":0.154},{"pF":2.65,"SWC":0.148},{"pF":2.7,"SWC":0.143},{"pF":2.75,"SWC":0.138},{"pF":2.78,"SWC":0.135},
{"pF":0,"SWC":0.333},{"pF":0.15,"SWC":0.333},{"pF":0.3,"SWC":0.333},{"pF":0.45,"SWC":0.332},{"pF":0.6,"SWC":0.332},{"pF":0.75,"SWC":0.331},{"pF":0.9,"SWC":0.331},{"pF":1.05,"SWC":0.33},{"pF":1.2,"SWC":0.328},{"pF":1.25,"SWC":0.321},{"pF":1.3,"SWC":0.313},{"pF":1.35,"SWC":0.306},{"pF":1.4,"SWC":0.298},{"pF":1.45,"SWC":0.291},{"pF":1.5,"SWC":0.284},{"pF":1.55,"SWC":0.276},{"pF":1.6,"SWC":0.269},{"pF":1.65,"SWC":0.261},{"pF":1.7,"SWC":0.254},{"pF":1.75,"SWC":0.247},{"pF":1.8,"SWC":0.239},{"pF":1.85,"SWC":0.232},{"pF":1.9,"SWC":0.224},{"pF":1.95,"SWC":0.217},{"pF":2.0,"SWC":0.21},{"pF":2.05,"SWC":0.205},{"pF":2.1,"SWC":0.2},{"pF":2.15,"SWC":0.195},{"pF":2.2,"SWC":0.189},{"pF":2.25,"SWC":0.184},{"pF":2.3,"SWC":0.179},{"pF":2.35,"SWC":0.174},{"pF":2.4,"SWC":0.169},{"pF":2.45,"SWC":0.164},{"pF":2.5,"SWC":0.159},{"pF":2.55,"SWC":0.153},{"pF":2.6,"SWC":0.148},{"pF":2.65,"SWC":0.143},{"pF":2.7,"SWC":0.138},{"pF":2.77,"SWC":0.131},
{"pF":0,"SWC":0.33},{"pF":0.15,"SWC":0.33},{"pF":0.3,"SWC":0.33},{"pF":0.45,"SWC":0.329},{"pF":0.6,"SWC":0.329},{"pF":0.75,"SWC":0.328},{"pF":0.9,"SWC":0.328},{"pF":1.05,"SWC":0.327},{"pF":1.2,"SWC":0.326},{"pF":1.25,"SWC":0.322},{"pF":1.3,"SWC":0.316},{"pF":1.35,"SWC":0.31},{"pF":1.4,"SWC":0.303},{"pF":1.45,"SWC":0.297},{"pF":1.5,"SWC":0.29},{"pF":1.55,"SWC":0.283},{"pF":1.6,"SWC":0.276},{"pF":1.65,"SWC":0.269},{"pF":1.7,"SWC":0.262},{"pF":1.75,"SWC":0.255},{"pF":1.8,"SWC":0.247},{"pF":1.85,"SWC":0.238},{"pF":1.9,"SWC":0.228},{"pF":1.95,"SWC":0.216},{"pF":2.0,"SWC":0.205},{"pF":2.05,"SWC":0.198},{"pF":2.1,"SWC":0.192},{"pF":2.15,"SWC":0.186},{"pF":2.2,"SWC":0.18},{"pF":2.25,"SWC":0.174},{"pF":2.3,"SWC":0.168},{"pF":2.35,"SWC":0.162},{"pF":2.4,"SWC":0.157},{"pF":2.45,"SWC":0.152},{"pF":2.5,"SWC":0.148},{"pF":2.55,"SWC":0.144},{"pF":2.6,"SWC":0.14},{"pF":2.65,"SWC":0.136},{"pF":2.7,"SWC":0.132},{"pF":2.76,"SWC":0.127}
],
"wp4c":[
{"pF":3.5,"SWC":0.251},{"pF":3.29,"SWC":0.213},{"pF":3.52,"SWC":0.216},{"pF":3.72,"SWC":0.214},{"pF":3.4,"SWC":0.198},{"pF":3.65,"SWC":0.202},{"pF":3.77,"SWC":0.196},{"pF":3.87,"SWC":0.197},{"pF":3.99,"SWC":0.2},{"pF":4.1,"SWC":0.197},{"pF":3.57,"SWC":0.194},{"pF":3.46,"SWC":0.187},{"pF":3.36,"SWC":0.179},{"pF":3.43,"SWC":0.176},{"pF":3.6,"SWC":0.181},{"pF":3.7,"SWC":0.181},{"pF":3.6,"SWC":0.17},{"pF":3.77,"SWC":0.172},{"pF":3.94,"SWC":0.176},{"pF":4.13,"SWC":0.174},{"pF":3.7,"SWC":0.159},{"pF":3.52,"SWC":0.151},{"pF":3.77,"SWC":0.151},{"pF":3.93,"SWC":0.15},{"pF":3.8,"SWC":0.15},{"pF":3.83,"SWC":0.201},{"pF":3.87,"SWC":0.122},{"pF":3.95,"SWC":0.118},
{"pF":3.35,"SWC":0.103},{"pF":3.57,"SWC":0.102},{"pF":3.62,"SWC":0.1},{"pF":3.65,"SWC":0.104},{"pF":3.7,"SWC":0.101},{"pF":3.74,"SWC":0.106},{"pF":3.77,"SWC":0.099},{"pF":3.84,"SWC":0.102},{"pF":3.91,"SWC":0.099},{"pF":3.89,"SWC":0.093},{"pF":3.97,"SWC":0.104},{"pF":4.04,"SWC":0.102},{"pF":4.1,"SWC":0.103},{"pF":4.16,"SWC":0.101},{"pF":4.22,"SWC":0.102},{"pF":4.35,"SWC":0.097},{"pF":4.42,"SWC":0.1},{"pF":4.51,"SWC":0.103},{"pF":4.62,"SWC":0.102},{"pF":4.69,"SWC":0.1},{"pF":4.78,"SWC":0.099},{"pF":4.9,"SWC":0.097},{"pF":4.93,"SWC":0.097},
{"pF":4.28,"SWC":0.092},{"pF":4.22,"SWC":0.087},{"pF":4.15,"SWC":0.082},{"pF":4.04,"SWC":0.078},{"pF":4.37,"SWC":0.067},
{"pF":3.98,"SWC":0.05},{"pF":4.01,"SWC":0.05},{"pF":4.05,"SWC":0.051},{"pF":4.1,"SWC":0.052},{"pF":4.42,"SWC":0.048},{"pF":4.5,"SWC":0.049},{"pF":4.55,"SWC":0.051},{"pF":4.58,"SWC":0.053},{"pF":4.83,"SWC":0.051},{"pF":4.87,"SWC":0.048},{"pF":4.9,"SWC":0.044},{"pF":4.93,"SWC":0.05}
]
},
"resolve":{"scale":{"shape":"independent"}},
"layer":[
{"data":{"name":"hyprop"},
"mark":{"type":"point","filled":false,"color":"black","strokeWidth":1.45,"size":44,"opacity":1},
"encoding":{
"x":{"field":"pF","type":"quantitative","scale":{"domain":[-0.246,5.27],"nice":false,"zero":false},
"axis":{"values":[0,1,2,3,4,5],"labelPadding":4,"title":"pF (-)","titleX":132,"titleY":68,"titleBaseline":"alphabetic"}},
"y":{"field":"SWC","type":"quantitative","scale":{"domain":[0.0211,0.5462],"nice":false,"zero":false},
"axis":{"values":[0.1,0.2,0.3,0.4,0.5],"format":".1f","labelPadding":5,"title":"SWC (cm³ cm⁻³)","titleX":-59,"titleY":241,"titleBaseline":"alphabetic"}},
"shape":{"datum":"HYPROP","type":"nominal","scale":{"range":["circle"]},
"legend":{"orient":"none","legendX":293,"legendY":222,"labelOffset":3,"symbolSize":22,"symbolStrokeWidth":0.9,"symbolStrokeColor":"black"}}
}},
{"data":{"name":"wp4c"},
"mark":{"type":"point","filled":true,"color":"black","size":50,"opacity":1},
"encoding":{
"x":{"field":"pF","type":"quantitative"},
"y":{"field":"SWC","type":"quantitative"},
"shape":{"datum":"WP4C","type":"nominal","scale":{"range":["square"]},
"legend":{"orient":"none","legendX":293,"legendY":246,"labelOffset":3,"symbolSize":34}}
}}
]
}
